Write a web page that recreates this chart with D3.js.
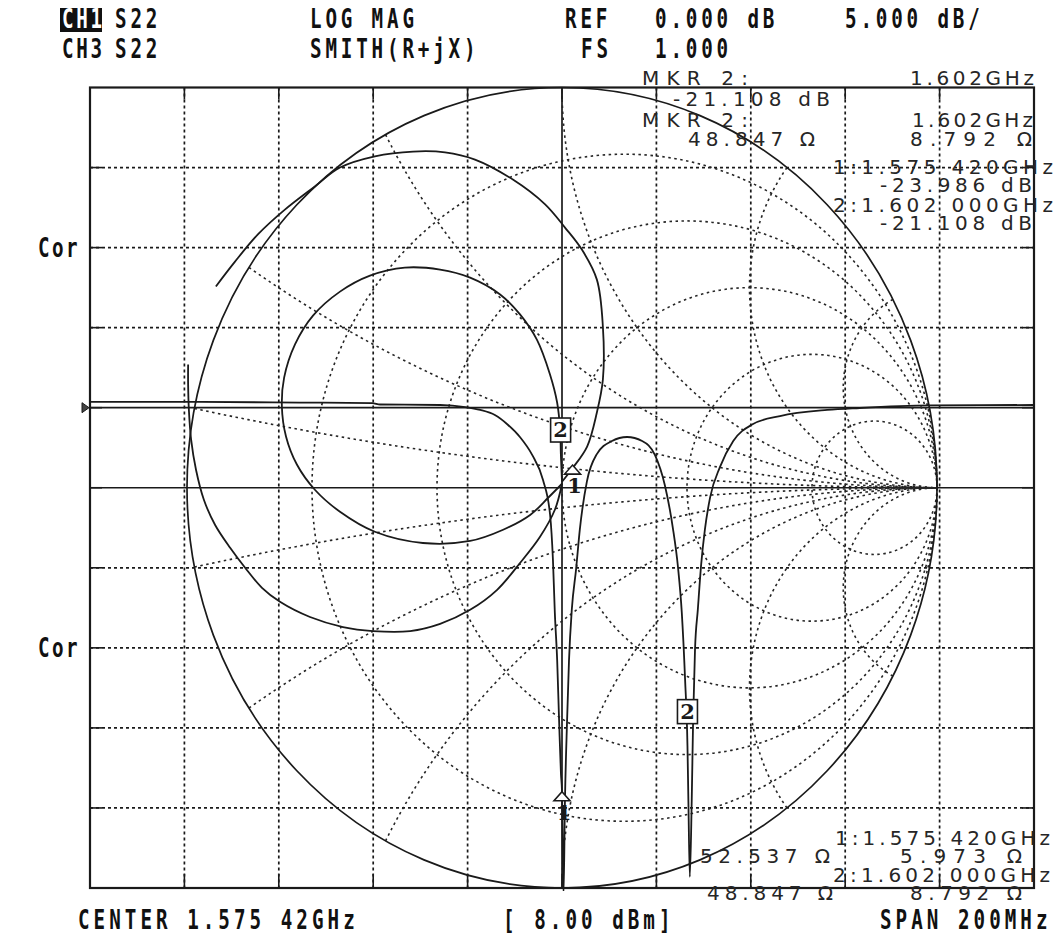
<!DOCTYPE html>
<html>
<head>
<meta charset="utf-8">
<script src="https://cdn.jsdelivr.net/npm/d3@7"></script>
<style>
  body { margin: 0; background: #fff; }
  svg { display: block; }
</style>
</head>
<body>
<svg id="chart" width="1058" height="943"></svg>
<script>
// ---- CH1 S22 LOG MAG trace (MHz, dB) ----
const freqMHz = [1475.42, 1498.7, 1519.9, 1535.2, 1536.9, 1549.6, 1554.9, 1558.1, 1561.2, 1564.0,
  1566.5, 1569.1, 1571.4, 1572.9, 1573.5, 1573.9, 1574.4, 1574.8, 1575.2, 1575.42,
  1575.74, 1576.05, 1576.5, 1576.9, 1577.5, 1578.4, 1579.2, 1580.7, 1582.8, 1586.0,
  1589.2, 1592.4, 1595.1, 1597.2, 1598.9, 1600.0, 1600.8, 1601.5, 1602.0, 1602.2,
  1602.5, 1602.9, 1603.2, 1603.6, 1604.2, 1604.9, 1605.7, 1606.8, 1608.9, 1611.7,
  1615.9, 1621.6, 1631.6, 1638.5, 1653.4, 1675.42];
const magDb = [0.36, 0.36, 0.32, 0.29, 0.2, 0.17, 0.04, -0.14, -0.46, -1.08,
  -1.83, -2.95, -4.52, -6.7, -9.5, -12.8, -15.8, -19.5, -22.9, -23.99,
  -30.5, -24.5, -19.5, -15.8, -12.6, -10.1, -7.6, -4.6, -2.9, -2.08,
  -1.83, -2.08, -2.95, -4.83, -7.5, -9.98, -12.8, -17.0, -21.1, -24.6,
  -29.3, -24.6, -19.5, -15.1, -12.6, -9.8, -7.6, -5.6, -3.7, -2.08,
  -1.02, -0.52, -0.14, -0.02, 0.14, 0.17];

// ---- CH3 S22 SMITH trace, reflection coefficient (re, im), three pieces ----
const smithRe1 = [-0.923, -0.872, -0.811, -0.739, -0.659, -0.592, -0.499, -0.397, -0.312, -0.232,
  -0.131, -0.045, 0.008, 0.053, 0.093, 0.109, 0.109, 0.093, 0.067, 0.029, 0.0];
const smithIm1 = [0.503, 0.565, 0.633, 0.695, 0.753, 0.80, 0.828, 0.84, 0.838, 0.82,
  0.77, 0.708, 0.65, 0.595, 0.52, 0.403, 0.27, 0.188, 0.103, 0.05, 0.015];
const smithRe2 = [0.0, -0.003, -0.005, -0.013, -0.032, -0.067, -0.112, -0.165, -0.245, -0.325,
  -0.419, -0.512, -0.592, -0.664, -0.712, -0.741, -0.747, -0.736, -0.707, -0.659,
  -0.592, -0.499, -0.371, -0.245, -0.157, -0.085, -0.037, 0.0];
const smithIm2 = [0.015, 0.083, 0.145, 0.213, 0.283, 0.37, 0.433, 0.483, 0.525, 0.545,
  0.55, 0.53, 0.49, 0.43, 0.358, 0.275, 0.203, 0.128, 0.058, -0.005,
  -0.06, -0.11, -0.138, -0.133, -0.105, -0.068, -0.025, 0.01];
const smithRe3 = [0.0, -0.019, -0.059, -0.112, -0.173, -0.245, -0.325, -0.405, -0.504, -0.584,
  -0.672, -0.752, -0.80, -0.845, -0.885, -0.925, -0.955, -0.976, -0.989, -0.995, -0.997, -0.997];
const smithIm3 = [0.01, -0.055, -0.123, -0.188, -0.255, -0.305, -0.34, -0.358, -0.358, -0.348,
  -0.323, -0.285, -0.25, -0.2, -0.15, -0.093, -0.03, 0.045, 0.12, 0.195, 0.258, 0.308];

// ---- markers ----
const markerIds = [1, 2];
const markerFreq = [1575.42, 1602.0];
const markerDb = [-23.986, -21.108];
const markerR = [52.537, 48.847];   // ohm
const markerX = [5.973, 8.792];     // ohm
const z0 = 50;

// ---- smith graticule ----
const resistCircles = [0.2, 0.5, 1, 2, 5];
const reactArcs = [0.1, 0.3, 0.6, 1, 2, 4];

// ---- texts ----
const headRow1 = ["S22", "LOG MAG", "REF", "0.000 dB", "5.000 dB/"];
const headRow2 = ["CH3", "S22", "SMITH(R+jX)", "FS", "1.000"];
const footRow = ["CENTER 1.575 42GHz", "[ 8.00 dBm]", "SPAN 200MHz"];
const readTop = ["MKR  2:", "1.602GHz", "-21.108 dB", "MKR  2:", "1.602GHz", "48.847 Ω", "8.792 Ω",
  "1:1.575 420GHz", "-23.986 dB", "2:1.602 000GHz", "-21.108 dB"];
const readBottom = ["1:1.575 420GHz", "52.537 Ω", "5.973 Ω", "2:1.602 000GHz", "48.847 Ω", "8.792 Ω"];

// ================= drawing =================
const svg = d3.select('#chart');
const L = 90, R = 1034, T = 87.5, B = 888;
const cx = (L + R) / 2;
const ink = '#1a1a1a';

const fx = d3.scaleLinear().domain([1475.42, 1675.42]).range([L, R]);
const dby = d3.scaleLinear().domain([20, -30]).range([T, B]);
const gx = d3.scaleLinear().domain([-1, 1]).range([cx - 375, cx + 375]);
const gy = d3.scaleLinear().domain([1, -1]).range([T, B]);

svg.append('rect').attr('width', 1058).attr('height', 943).attr('fill', '#fff');

svg.append('clipPath').attr('id', 'plotclip')
  .append('rect').attr('x', L).attr('y', T - 1).attr('width', R - L).attr('height', B - T + 4);

// graticule
const grid = svg.append('g');
const vTicks = d3.range(1, 10).map(k => 1475.42 + k * 20);
const hTicks = d3.range(15, -30, -5);
grid.selectAll('line.v').data(vTicks).enter().append('line')
  .attr('x1', d => fx(d)).attr('x2', d => fx(d)).attr('y1', T).attr('y2', B)
  .attr('stroke', ink)
  .attr('stroke-width', (d, i) => i === 4 ? 1.7 : 1.7)
  .attr('stroke-dasharray', (d, i) => i === 4 ? null : '3,3');
grid.selectAll('line.h').data(hTicks).enter().append('line')
  .attr('y1', d => dby(d)).attr('y2', d => dby(d)).attr('x1', L).attr('x2', R)
  .attr('stroke', ink)
  .attr('stroke-width', 1.7)
  .attr('stroke-dasharray', d => (d === 0 || d === -5) ? null : '3,3');
// edge ticks
vTicks.forEach(f => {
  grid.append('line').attr('x1', fx(f)).attr('x2', fx(f)).attr('y1', T).attr('y2', T + 12).attr('stroke', ink).attr('stroke-width', 1.6);
  grid.append('line').attr('x1', fx(f)).attr('x2', fx(f)).attr('y1', B - 14).attr('y2', B).attr('stroke', ink).attr('stroke-width', 1.6);
});
hTicks.forEach(d => {
  grid.append('line').attr('x1', L).attr('x2', L + 12).attr('y1', dby(d)).attr('y2', dby(d)).attr('stroke', ink).attr('stroke-width', 1.6);
  grid.append('line').attr('x1', R - 12).attr('x2', R).attr('y1', dby(d)).attr('y2', dby(d)).attr('stroke', ink).attr('stroke-width', 1.6);
});

// smith grid
const sg = svg.append('g').attr('fill', 'none').attr('stroke', '#262626')
  .attr('stroke-width', 1.6).attr('stroke-dasharray', '2.5,3.5');
resistCircles.forEach(r => {
  const c = r / (1 + r), rad = 1 / (1 + r);
  sg.append('ellipse')
    .attr('cx', gx(c)).attr('cy', gy(0))
    .attr('rx', gx(rad) - gx(0)).attr('ry', gy(0) - gy(rad));
});
const rSteps = [0].concat(d3.range(-3, 3.01, 0.02).map(t => Math.pow(10, t)));
const smithLine = d3.line().x(d => gx(d[0])).y(d => gy(d[1]));
reactArcs.forEach(x => {
  [x, -x].forEach(xx => {
    const pts = rSteps.map(r => {
      // gamma = (z-1)/(z+1), z = r + j xx
      const nr = r - 1, ni = xx, dr = r + 1, di = xx;
      const den = dr * dr + di * di;
      return [(nr * dr + ni * di) / den, (ni * dr - nr * di) / den];
    });
    sg.append('path').attr('d', smithLine(pts));
  });
});

// smith outer circle
svg.append('ellipse').attr('cx', gx(0)).attr('cy', gy(0))
  .attr('rx', gx(1) - gx(0)).attr('ry', gy(0) - gy(1))
  .attr('fill', 'none').attr('stroke', ink).attr('stroke-width', 1.7);

// frame
svg.append('rect').attr('x', L).attr('y', T).attr('width', R - L).attr('height', B - T)
  .attr('fill', 'none').attr('stroke', ink).attr('stroke-width', 2.2);

// reference triangle
svg.append('path')
  .attr('d', `M${L - 8},${dby(0) - 5}L${L - 1},${dby(0)}L${L - 8},${dby(0) + 5}Z`)
  .attr('fill', '#444').attr('stroke', ink).attr('stroke-width', 1);

// traces
const traces = svg.append('g').attr('clip-path', 'url(#plotclip)')
  .attr('fill', 'none').attr('stroke', ink).attr('stroke-width', 1.8);

const magLine = d3.line().x(d => fx(d[0])).y(d => dby(d[1])).curve(d3.curveMonotoneX);
traces.append('path').attr('d', magLine(freqMHz.map((f, i) => [f, magDb[i]])));

const smithCurve = d3.line().x(d => gx(d[0])).y(d => gy(d[1])).curve(d3.curveCatmullRom.alpha(0.5));
[[smithRe1, smithIm1], [smithRe2, smithIm2], [smithRe3, smithIm3]].forEach(([re, im]) => {
  traces.append('path').attr('d', smithCurve(re.map((v, i) => [v, im[i]])));
});

// markers
const mk = svg.append('g');
function triMarker(px, py, id) {
  mk.append('path').attr('d', `M${px},${py}L${px + 8},${py + 9}L${px - 8},${py + 9}Z`)
    .attr('fill', '#fff').attr('stroke', ink).attr('stroke-width', 1.6);
  mk.append('text').attr('x', px + 2).attr('y', py + 28).attr('text-anchor', 'middle')
    .attr('font-family', 'DejaVu Serif').attr('font-weight', 'bold').attr('font-size', 21)
    .attr('fill', ink).text(id);
}
function boxMarker(px, py, id, gap) {
  mk.append('rect').attr('x', px - 10).attr('y', py - gap - 24).attr('width', 20).attr('height', 24)
    .attr('fill', '#fff').attr('stroke', ink).attr('stroke-width', 1.6);
  mk.append('text').attr('x', px).attr('y', py - gap - 5).attr('text-anchor', 'middle')
    .attr('font-family', 'DejaVu Serif').attr('font-weight', 'bold').attr('font-size', 21)
    .attr('fill', ink).text(id);
}
markerIds.forEach((id, i) => {
  const lx = fx(markerFreq[i]), ly = dby(markerDb[i]);
  // impedance -> gamma
  const r = markerR[i] / z0, x = markerX[i] / z0;
  const den = (r + 1) * (r + 1) + x * x;
  const gr = ((r - 1) * (r + 1) + x * x) / den, gi = (x * (r + 1) - (r - 1) * x) / den;
  const sx = gx(gr), sy = gy(gi);
  if (id === 1) { triMarker(lx, ly, id); triMarker(sx, sy, id); }
  else { boxMarker(lx, ly, id, 22); boxMarker(sx, sy, id, 10); }
});

// HP style bold header text
function hpText(s, x, y, adv, fill) {
  const sxs = 0.74;
  return svg.append('text')
    .attr('transform', `translate(${x},${y}) scale(${sxs},1)`)
    .attr('font-family', 'DejaVu Sans Mono').attr('font-weight', 'bold').attr('font-size', 26)
    .attr('letter-spacing', adv / sxs - 15.65)
    .attr('fill', fill || '#111').text(s);
}
svg.append('rect').attr('x', 60).attr('y', 8).attr('width', 42).attr('height', 24).attr('fill', '#111');
hpText('CH1', 62, 28, 14.2, '#fff');
[115, 310, 565, 655, 845].forEach((x, i) => hpText(headRow1[i], x, 28, 15.4));
hpText(headRow2[0], 62, 58, 14.2);
[115, 310, 581, 655].forEach((x, i) => hpText(headRow2[i + 1], x, 58, 15.4));
[78, 503, 880].forEach((x, i) => hpText(footRow[i], x, 929, 15.6));
hpText('Cor', 38, 257, 14);
hpText('Cor', 38, 657, 14);

// marker readouts
function readout(s, x, y, w) {
  svg.append('text').attr('x', x).attr('y', y)
    .attr('textLength', w).attr('lengthAdjust', 'spacing')
    .attr('font-family', 'DejaVu Sans').attr('font-size', 20)
    .attr('fill', '#262626').text(s);
}
const topPos = [[642, 85, 106], [910, 85, 124], [673, 106, 157], [642, 127, 106], [912, 127, 121],
  [688, 146, 127], [910, 146, 122], [833, 174, 220], [880, 192, 152], [833, 212, 220], [880, 230, 152]];
readTop.forEach((s, i) => readout(s, ...topPos[i]));
const botPos = [[835, 845, 215], [700, 863, 130], [900, 863, 122], [833, 882, 217], [707, 900, 126], [910, 900, 112]];
readBottom.forEach((s, i) => readout(s, ...botPos[i]));
</script>
</body>
</html>
